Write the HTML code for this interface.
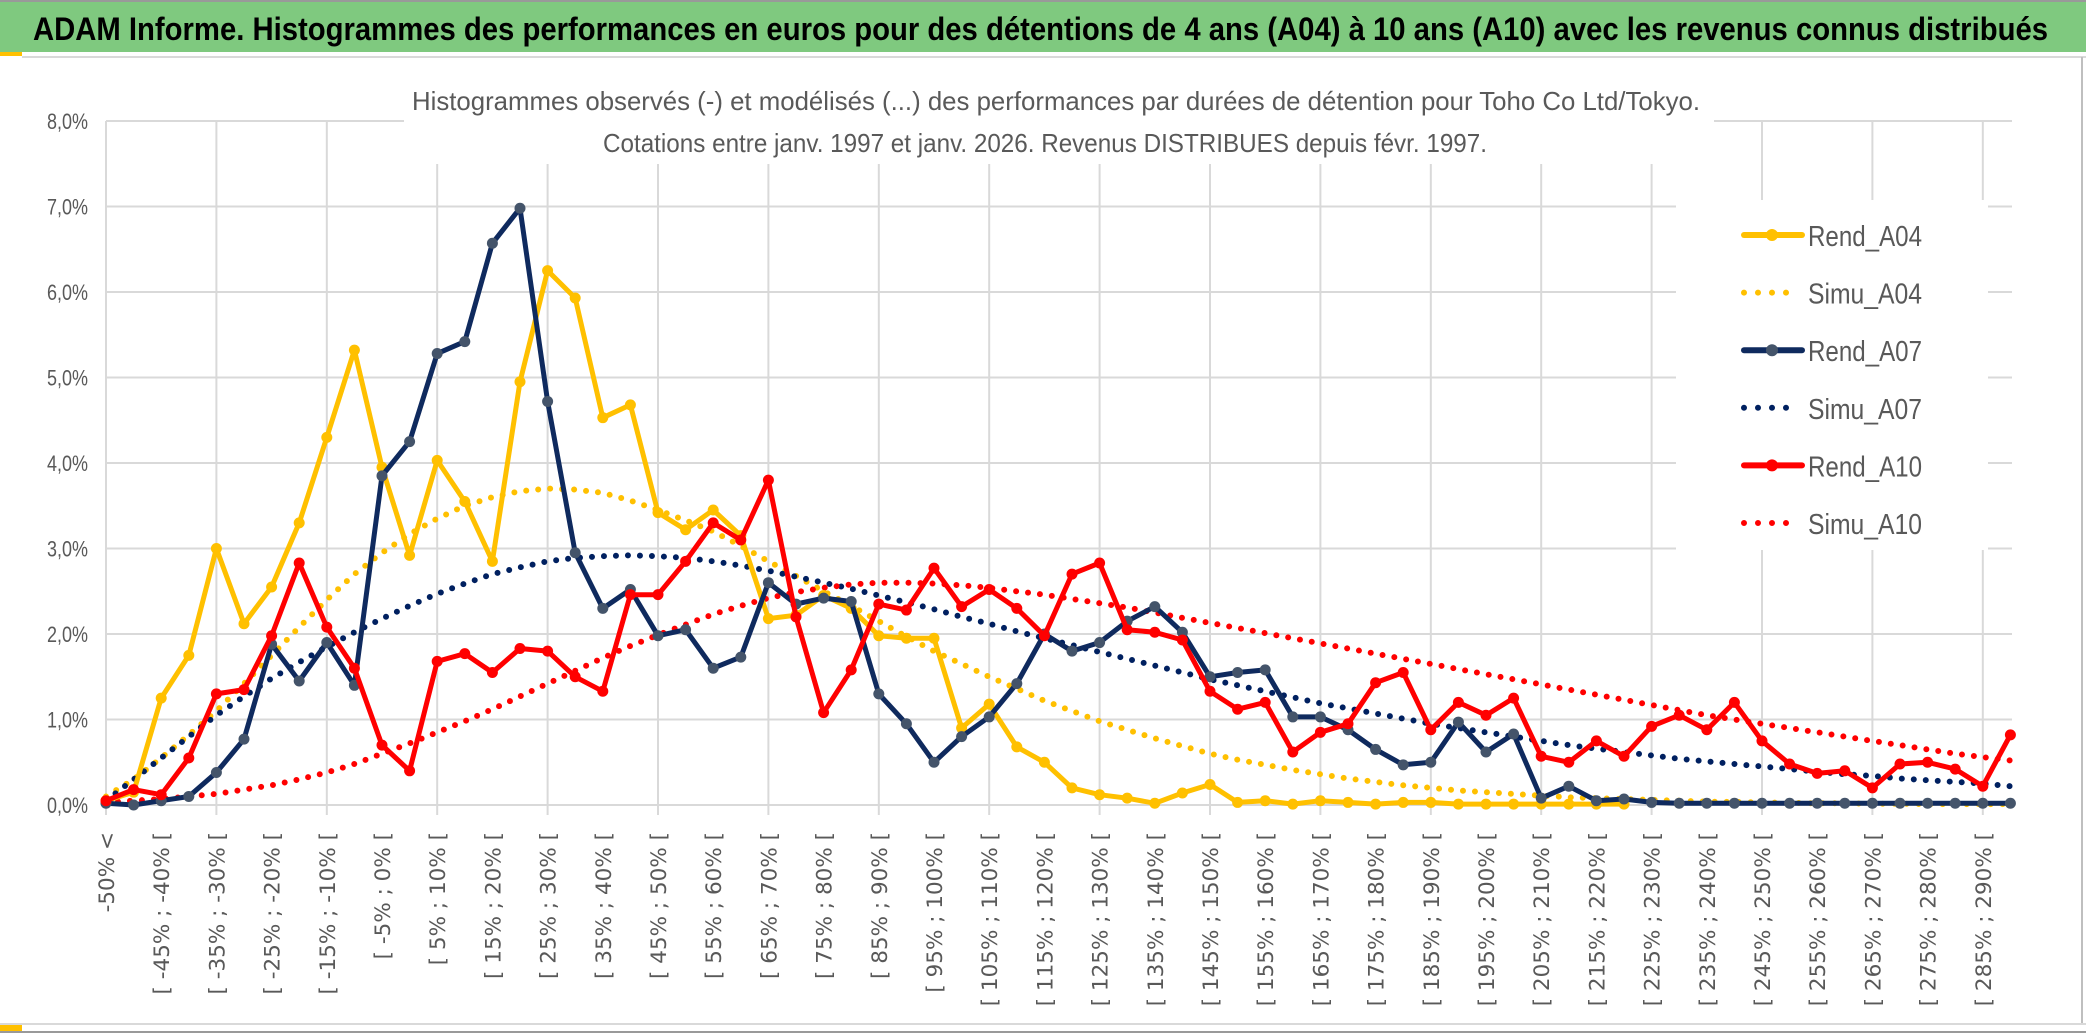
<!DOCTYPE html>
<html><head><meta charset="utf-8"><style>
html,body{margin:0;padding:0;background:#fff;}
svg{display:block;}
</style></head><body>
<svg id="chart" width="2086" height="1033" viewBox="0 0 2086 1033" xmlns="http://www.w3.org/2000/svg">
<rect x="0" y="0" width="2086" height="1033" fill="#fff"/>
<rect x="0" y="2" width="2086" height="50" fill="#7fc97f"/>
<line x1="0" y1="1" x2="2086" y2="1" stroke="#999" stroke-width="2"/>
<rect x="0" y="52" width="22" height="4" fill="#ffc000"/>
<line x1="22" y1="57" x2="2086" y2="57" stroke="#d9d9d9" stroke-width="2"/>
<line x1="2082" y1="57" x2="2082" y2="1023" stroke="#bfbfbf" stroke-width="2"/>
<line x1="0" y1="1024" x2="2086" y2="1024" stroke="#d9d9d9" stroke-width="2"/>
<rect x="0" y="1025" width="22" height="6" fill="#ffc000"/>
<line x1="0" y1="1032" x2="2086" y2="1032" stroke="#999" stroke-width="2"/>
<text x="33" y="40" font-family="Liberation Sans, sans-serif" font-weight="bold" font-size="32" fill="#000" textLength="2015" lengthAdjust="spacingAndGlyphs">ADAM Informe. Histogrammes des performances en euros pour des détentions de 4 ans (A04) à 10 ans (A10) avec les revenus connus distribués</text>
<g id="grid"></g>
<g id="yaxis"></g>
<rect x="404" y="80" width="1310" height="84" fill="#fff"/>
<text x="412" y="110" font-family="Liberation Sans, sans-serif" font-size="26" fill="#595959" textLength="1288" lengthAdjust="spacingAndGlyphs">Histogrammes observés (-) et modélisés (...) des performances par durées de détention pour Toho Co Ltd/Tokyo.</text>
<text x="603" y="152" font-family="Liberation Sans, sans-serif" font-size="26" fill="#595959" textLength="884" lengthAdjust="spacingAndGlyphs">Cotations entre janv. 1997 et janv. 2026. Revenus DISTRIBUES depuis févr. 1997.</text>
<g id="xaxis"></g>
<g id="series"></g>
<g id="legend"></g>
</svg>
<script>
const rendA04 = [0.05,0.15,1.25,1.75,3.0,2.12,2.55,3.3,4.3,5.32,3.95,2.92,4.03,3.55,2.85,4.95,6.25,5.93,4.53,4.68,3.42,3.22,3.45,3.15,2.18,2.22,2.45,2.3,1.98,1.95,1.95,0.9,1.18,0.68,0.5,0.2,0.12,0.08,0.02,0.14,0.24,0.03,0.05,0.01,0.05,0.03,0.01,0.03,0.03,0.01,0.01,0.01,0.01,0.01,0.01,0.01];
const simuA04 = [0.10,0.30,0.55,0.82,1.10,1.42,1.75,2.08,2.40,2.70,2.95,3.17,3.35,3.50,3.60,3.67,3.70,3.69,3.65,3.56,3.45,3.33,3.20,3.03,2.85,2.68,2.50,2.33,2.15,1.97,1.80,1.65,1.50,1.36,1.22,1.10,0.98,0.88,0.78,0.69,0.60,0.53,0.47,0.41,0.36,0.31,0.27,0.23,0.20,0.17,0.15,0.13,0.11,0.09,0.08,0.07,0.06,0.05,0.04,0.035,0.03,0.025,0.02,0.02,0.015,0.015,0.01,0.01,0.01,0.01];
const rendA07 = [0.02,0.0,0.05,0.1,0.38,0.77,1.88,1.45,1.9,1.4,3.85,4.25,5.28,5.42,6.57,6.98,4.72,2.95,2.3,2.52,1.98,2.05,1.6,1.73,2.6,2.35,2.42,2.38,1.3,0.95,0.5,0.8,1.03,1.42,2.0,1.8,1.9,2.15,2.32,2.02,1.5,1.55,1.58,1.03,1.03,0.88,0.65,0.47,0.5,0.97,0.62,0.83,0.08,0.22,0.05,0.07,0.03,0.02,0.02,0.02,0.02,0.02,0.02,0.02,0.02,0.02,0.02,0.02,0.02,0.02];
const simuA07 = [0.05,0.30,0.55,0.80,1.05,1.27,1.48,1.67,1.85,2.02,2.18,2.33,2.47,2.59,2.70,2.78,2.85,2.89,2.91,2.92,2.91,2.89,2.85,2.80,2.74,2.67,2.60,2.53,2.45,2.37,2.29,2.20,2.12,2.03,1.95,1.87,1.79,1.71,1.63,1.55,1.47,1.40,1.33,1.26,1.19,1.13,1.07,1.01,0.95,0.90,0.85,0.80,0.75,0.70,0.66,0.62,0.58,0.54,0.51,0.48,0.45,0.42,0.39,0.36,0.34,0.31,0.29,0.27,0.25,0.22];
const rendA10 = [0.05,0.18,0.12,0.55,1.3,1.35,1.98,2.83,2.08,1.6,0.7,0.4,1.68,1.77,1.55,1.83,1.8,1.5,1.33,2.46,2.46,2.85,3.3,3.1,3.8,2.2,1.08,1.58,2.35,2.28,2.77,2.32,2.52,2.3,1.98,2.7,2.83,2.05,2.02,1.93,1.33,1.12,1.2,0.62,0.85,0.95,1.43,1.55,0.88,1.2,1.05,1.25,0.57,0.5,0.75,0.57,0.92,1.05,0.88,1.2,0.75,0.48,0.37,0.4,0.2,0.48,0.5,0.42,0.22,0.82];
const simuA10 = [0.03,0.05,0.07,0.10,0.13,0.18,0.23,0.30,0.38,0.48,0.60,0.72,0.85,0.98,1.12,1.27,1.42,1.57,1.72,1.86,1.99,2.11,2.23,2.33,2.42,2.49,2.54,2.58,2.60,2.60,2.59,2.57,2.54,2.50,2.46,2.41,2.36,2.31,2.25,2.19,2.13,2.07,2.01,1.95,1.89,1.83,1.77,1.71,1.65,1.59,1.53,1.47,1.41,1.35,1.29,1.23,1.17,1.11,1.05,1.00,0.95,0.90,0.85,0.80,0.75,0.70,0.65,0.60,0.56,0.52];
const yTicks = ["0,0%","1,0%","2,0%","3,0%","4,0%","5,0%","6,0%","7,0%","8,0%"];
const categories = ["-50% <"];
for (let k = 1; k < 70; k++) { const lo = -50 + 5*(k-1); categories.push("[ " + lo + "% ; " + (lo+5) + "% ["); }

const NS = "http://www.w3.org/2000/svg";
const X0 = 106, DX = 27.6, Y0 = 805, PY = 85.5, XR = 2012;
const xs = k => X0 + k*DX;
const ys = v => Y0 - v*PY;
function mk(tag, attrs, parent){ const e=document.createElementNS(NS,tag); for(const a in attrs) e.setAttribute(a,attrs[a]); parent.appendChild(e); return e; }
const grid=document.getElementById('grid'), yax=document.getElementById('yaxis'), xax=document.getElementById('xaxis'), ser=document.getElementById('series'), leg=document.getElementById('legend');

yTicks.forEach((t,i)=>{
  const l=mk('line',{x1:X0,x2:XR,y1:ys(i),y2:ys(i),stroke:'#d9d9d9','stroke-width':2},grid);
  
  
  const tx=mk('text',{x:88,y:ys(i)+8,'text-anchor':'end','font-family':'Liberation Sans, sans-serif','font-size':22,fill:'#595959',textLength:41,lengthAdjust:'spacingAndGlyphs'},yax);
  tx.textContent=t;
  
  
});
for(let k=0;k<categories.length;k+=4){
  const l=mk('line',{x1:xs(k),x2:xs(k),y1:ys(8),y2:Y0+10,stroke:'#d9d9d9','stroke-width':2},grid);
  
  
}
mk('line',{x1:X0,x2:XR,y1:Y0,y2:Y0,stroke:'#d9d9d9','stroke-width':2},grid);
categories.forEach((c,k)=>{
  if(k%2) return;
  const x=xs(k)+8;
  const tx=mk('text',{x:x,y:832,transform:`rotate(-90 ${x} 832)`,'text-anchor':'end','font-family':'DejaVu Sans, sans-serif','font-size':21.5,fill:'#595959'},xax);
  tx.textContent=c;
  
  
});

function pts(arr){ return arr.map((v,k)=>xs(k).toFixed(1)+','+ys(v).toFixed(1)).join(' '); }
function dotted(arr,color,name){
  const p=mk('polyline',{points:pts(arr),fill:'none',stroke:color,'stroke-width':6,'stroke-linecap':'round','stroke-dasharray':'0 12'},ser);
  
  
}
function solid(arr,color,mcolor,name){
  const g=mk('g',{},ser);
  
  
  mk('polyline',{points:pts(arr),fill:'none',stroke:color,'stroke-width':5,'stroke-linejoin':'round'},g);
  arr.forEach((v,k)=>{
    const c=mk('circle',{cx:xs(k),cy:ys(v),r:5.5,fill:mcolor},g);
    
    
  });
}
dotted(simuA04,'#ffc000','simu-a04-line');
dotted(simuA07,'#002060','simu-a07-line');
dotted(simuA10,'#ff0000','simu-a10-line');
solid(rendA04,'#ffc000','#ffc000','rend-a04-line');
solid(rendA07,'#0f2a5e','#44546a','rend-a07-line');
solid(rendA10,'#ff0000','#ff0000','rend-a10-line');

mk('rect',{x:1676,y:200,width:312,height:350,fill:'#fff'},leg);
const legItems=[["Rend_A04",'#ffc000','#ffc000',false],["Simu_A04",'#ffc000',null,true],["Rend_A07",'#0f2a5e','#44546a',false],["Simu_A07",'#002060',null,true],["Rend_A10",'#ff0000','#ff0000',false],["Simu_A10",'#ff0000',null,true]];
legItems.forEach((it,i)=>{
  const y=235+i*57.6;
  const g=mk('g',{},leg);
  
  
  if(it[3]){
    mk('line',{x1:1744,x2:1800,y1:y,y2:y,stroke:it[1],'stroke-width':6,'stroke-linecap':'round','stroke-dasharray':'0 14'},g);
  } else {
    mk('line',{x1:1744,x2:1802,y1:y,y2:y,stroke:it[1],'stroke-width':6,'stroke-linecap':'round'},g);
    mk('circle',{cx:1772,cy:y,r:6,fill:it[2]},g);
  }
  const t=mk('text',{x:1808,y:y+11,'font-family':'Liberation Sans, sans-serif','font-size':29,fill:'#595959',textLength:114,lengthAdjust:'spacingAndGlyphs'},g);
  t.textContent=it[0];
});
</script>
</body></html>
